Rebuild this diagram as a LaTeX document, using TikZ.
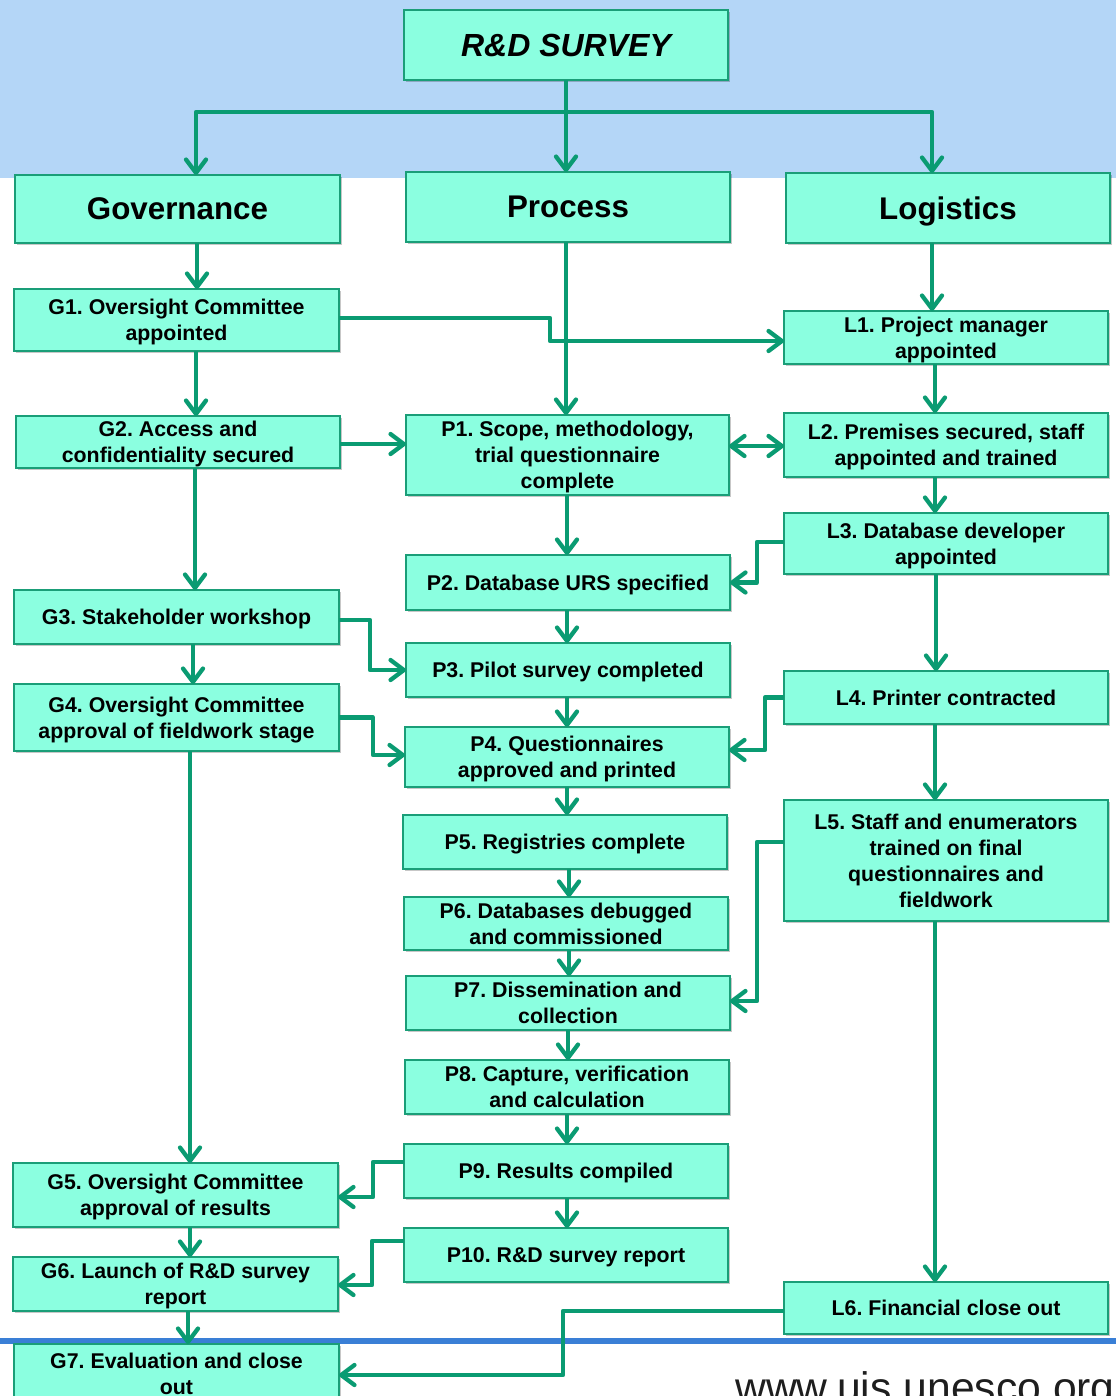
\documentclass[tikz,border=0pt]{standalone}
\usepackage{fontspec}
\setmainfont{Liberation Sans}
\frenchspacing
\usetikzlibrary{arrows.meta,shadows,calc}
\definecolor{boxfill}{RGB}{139,255,224}
\definecolor{boxline}{RGB}{26,158,120}
\definecolor{arrc}{RGB}{10,155,114}
\definecolor{bandblue}{RGB}{180,214,247}
\definecolor{lineblue}{RGB}{58,127,214}
\definecolor{urlgray}{RGB}{30,30,30}
\tikzset{
  box/.style={draw=boxline, fill=boxfill, line width=1.5pt, align=center, inner sep=0pt, outer sep=0pt,
    text depth=0pt,
    font=\bfseries\fontsize{16}{19.5}\selectfont,
    drop shadow={shadow xshift=1.5pt, shadow yshift=-1.8pt, opacity=0.22, fill=black}},
  head/.style={font=\bfseries\fontsize{23.5}{28}\selectfont},
  arr/.style={draw=arrc, line width=3.2pt, line join=round,
    -{Straight Barb[length=10pt,width=15pt,round]}},
  dbl/.style={draw=arrc, line width=3.2pt, line join=round,
    {Straight Barb[length=10pt,width=15pt,round]}-{Straight Barb[length=10pt,width=15pt,round]}},
}
\newcommand{\bx}[7][]{\node[box,#1, minimum width=#5*0.75pt, minimum height=#6*0.75pt] (#2) at (#3,#4) {#7};}
\begin{document}
\begin{tikzpicture}[x=0.75pt,y=-0.75pt]
\path[use as bounding box, clip] (0,0) rectangle (1116,1396);
\fill[white] (0,0) rectangle (1116,1396);
\fill[bandblue] (0,0) rectangle (1116,178);
\fill[lineblue] (0,1338) rectangle (1116,1344);
\node[anchor=base west, font=\fontsize{32}{36}\selectfont, text=urlgray, inner sep=0pt] (url) at (735,1402) {www.uis.unesco.org};

% boxes
\bx[font=\bfseries\itshape\fontsize{24}{28}\selectfont]{Survey}{566}{45}{324}{70}{R\&D SURVEY}
\bx[head]{Gov}{177.5}{209}{325}{68}{Governance}
\bx[head]{Proc}{568}{207}{324}{70}{Process}
\bx[head]{Log}{948}{208}{324}{70}{Logistics}
\bx{G1}{176.5}{320}{325}{62}{G1. Oversight Committee\\appointed}
\bx{L1}{946}{337.5}{324}{53}{L1. Project manager\\appointed}
\bx{G2}{178}{442}{324}{52}{G2. Access and\\confidentiality secured}
\bx{P1}{567.5}{455}{323}{80}{P1. Scope, methodology,\\trial questionnaire\\complete}
\bx{L2}{946}{445}{324}{64}{L2. Premises secured, staff\\appointed and trained}
\bx{L3}{946}{543.5}{324}{61}{L3. Database developer\\appointed}
\bx{P2}{568}{582.5}{324}{55}{P2. Database URS specified}
\bx{G3}{176.5}{617}{325}{54}{G3. Stakeholder workshop}
\bx{P3}{568}{670}{324}{54}{P3. Pilot survey completed}
\bx{L4}{946}{697.5}{324}{53}{L4. Printer contracted}
\bx{G4}{176.5}{717.5}{325}{67}{G4. Oversight Committee\\approval of fieldwork stage}
\bx{P4}{567}{757}{324}{60}{P4. Questionnaires\\approved and printed}
\bx{P5}{565}{842}{324}{54}{P5. Registries complete}
\bx{L5}{946}{860.5}{324}{121}{L5. Staff and enumerators\\trained on final\\questionnaires and\\fieldwork}
\bx{P6}{566}{923.5}{324}{53}{P6. Databases debugged\\and commissioned}
\bx{P7}{568}{1003}{324}{54}{P7. Dissemination and\\collection}
\bx{P8}{567}{1087}{324}{54}{P8. Capture, verification\\and calculation}
\bx{P9}{566}{1171}{324}{54}{P9. Results compiled}
\bx{G5}{175.5}{1195}{325}{64}{G5. Oversight Committee\\approval of results}
\bx{P10}{566}{1255}{324}{54}{P10. R\&D survey report}
\bx{G6}{175.5}{1284}{325}{54}{G6. Launch of R\&D survey\\report}
\bx{L6}{946}{1308}{324}{52}{L6. Financial close out}
\bx{G7}{176.5}{1374}{325}{60}{G7. Evaluation and close\\out}

% connectors from the top
\draw[arr] (Survey.south -| 566,0) -- (Proc.north -| 566,0);
\draw[arr] (Survey.south -| 566,0) |- (196,112) -- (Gov.north -| 196,0);
\draw[arr] (Survey.south -| 566,0) |- (932,112) -- (Log.north -| 932,0);

% governance column
\draw[arr] (Gov.south -| 197,0) -- (G1.north -| 197,0);
\draw[arr] (G1.south -| 196,0) -- (G2.north -| 196,0);
\draw[arr] (G2.south -| 195,0) -- (G3.north -| 195,0);
\draw[arr] (G3.south -| 193,0) -- (G4.north -| 193,0);
\draw[arr] (G4.south -| 190,0) -- (G5.north -| 190,0);
\draw[arr] (G5.south -| 190,0) -- (G6.north -| 190,0);
\draw[arr] (G6.south -| 188,0) -- (G7.north -| 188,0);

% process column
\draw[arr] (Proc.south -| 566,0) -- (P1.north -| 566,0);
\draw[arr] (P1.south -| 567,0) -- (P2.north -| 567,0);
\draw[arr] (P2.south -| 567,0) -- (P3.north -| 567,0);
\draw[arr] (P3.south -| 567,0) -- (P4.north -| 567,0);
\draw[arr] (P4.south -| 567,0) -- (P5.north -| 567,0);
\draw[arr] (P5.south -| 569,0) -- (P6.north -| 569,0);
\draw[arr] (P6.south -| 569,0) -- (P7.north -| 569,0);
\draw[arr] (P7.south -| 568,0) -- (P8.north -| 568,0);
\draw[arr] (P8.south -| 567,0) -- (P9.north -| 567,0);
\draw[arr] (P9.south -| 567,0) -- (P10.north -| 567,0);

% logistics column
\draw[arr] (Log.south -| 932,0) -- (L1.north -| 932,0);
\draw[arr] (L1.south -| 935,0) -- (L2.north -| 935,0);
\draw[arr] (L2.south -| 935,0) -- (L3.north -| 935,0);
\draw[arr] (L3.south -| 936,0) -- (L4.north -| 936,0);
\draw[arr] (L4.south -| 935,0) -- (L5.north -| 935,0);
\draw[arr] (L5.south -| 935,0) -- (L6.north -| 935,0);

% cross connectors
\draw[arr] (G1.east |- 0,318) -| (550,330) |- (L1.west |- 0,341);
\draw[arr] (G2.east |- 0,444) -- (P1.west |- 0,444);
\draw[dbl] (P1.east |- 0,446) -- (L2.west |- 0,446);
\draw[arr] (L3.west |- 0,542) -| (757,560) |- (P2.east);
\draw[arr] (G3.east |- 0,620) -| (370,640) |- (P3.west);
\draw[arr] (L4.west) -| (765,720) |- (P4.east |- 0,750);
\draw[arr] (G4.east) -| (373,740) |- (P4.west |- 0,755);
\draw[arr] (L5.west |- 0,842) -| (757,900) |- (P7.east |- 0,1001);
\draw[arr] (P9.west |- 0,1162) -| (373,1180) |- (G5.east |- 0,1197);
\draw[arr] (P10.west |- 0,1241) -| (372,1260) |- (G6.east |- 0,1285);
\draw[arr] (L6.west |- 0,1311) -| (563,1340) |- (G7.east |- 0,1375);
\end{tikzpicture}
\end{document}
